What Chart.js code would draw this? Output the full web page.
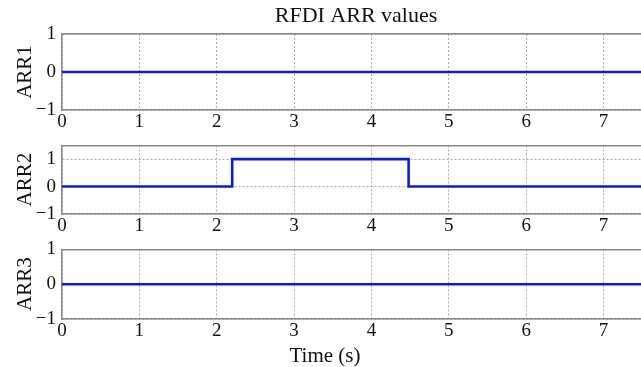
<!DOCTYPE html>
<html>
<head>
<meta charset="utf-8">
<script src="https://cdn.jsdelivr.net/npm/chart.js@4/dist/chart.umd.min.js"></script>
<style>
  html, body { margin: 0; padding: 0; background: #fff; overflow: hidden; }
  body { width: 641px; height: 367px; position: relative; }
  .panel { position: absolute; left: 0; }
</style>
</head>
<body>
<div class="panel" style="top:0"><canvas id="arr1" width="650" height="140"></canvas></div>
<div class="panel" style="top:128px"><canvas id="arr2" width="650" height="112"></canvas></div>
<div class="panel" style="top:232px"><canvas id="arr3" width="650" height="135"></canvas></div>
<script>
// step signal breakpoints (time in s)
const times = [0, 2.2, 4.48, 8];
const arr1 = [0, 0, 0, 0];
const arr2 = [0, 1, 0, 0];
const arr3 = [0, 0, 0, 0];
const xTicks = [0, 1, 2, 3, 4, 5, 6, 7];
const yTicks = [-1, 0, 1];

const FONT = "'Liberation Serif', 'Times New Roman', serif";
const gridGray = "#ababab";
const boxGray = "#8a8a8a";

function makeChart(id, label, values, o) {
  return new Chart(document.getElementById(id), {
    type: "line",
    data: {
      datasets: [{
        data: times.map((t, i) => ({ x: t, y: values[i] })),
        stepped: "before",
        borderColor: "#0f1ecc",
        borderWidth: 2.6,
        pointRadius: 0,
        fill: false,
      }],
    },
    options: {
      responsive: false,
      animation: false,
      layout: { padding: { top: o.padTop, left: 0, right: 0, bottom: 0 } },
      plugins: {
        legend: { display: false },
        tooltip: { enabled: false },
        title: o.xTitle ? {
          display: true,
          position: "bottom",
          text: o.xTitle,
          color: "#111",
          font: { family: FONT, size: 21, weight: "normal", lineHeight: 1 },
          padding: { top: 0.5, bottom: 0.5 },
        } : { display: false },
      },
      scales: {
        x: {
          type: "linear",
          min: 0,
          max: 7.6,
          afterBuildTicks: (s) => { s.ticks = xTicks.map((v) => ({ value: v })); },
          afterFit: (s) => { s.height = o.xHeight; },
          ticks: {
            color: "#111",
            padding: 1,
            maxRotation: 0,
            font: { family: FONT, size: 19 },
          },
          grid: { color: gridGray, drawTicks: false, lineWidth: 1 },
          border: { color: boxGray, width: 1.5, dash: [2, 2] },
        },
        xTop: {
          type: "linear",
          position: "top",
          min: 0,
          max: 7.6,
          afterFit: (s) => { s.height = o.topHeight; },
          ticks: { display: false },
          grid: { display: false, drawTicks: false },
          border: { color: boxGray, width: 1.5 },
          title: o.title ? {
            display: true,
            text: o.title,
            color: "#111",
            font: { family: FONT, size: 22, lineHeight: 1.2 },
            padding: { top: 3, bottom: 0 },
          } : { display: false },
        },
        y: {
          min: -1,
          max: o.yMax,
          afterBuildTicks: (s) => { s.ticks = yTicks.map((v) => ({ value: v })); },
          afterFit: (s) => { s.width = 62; },
          ticks: {
            color: "#111",
            padding: 6,
            font: { family: FONT, size: 19 },
            callback: (v) => String(v).replace("-", "\u2212"),
          },
          grid: { color: gridGray, drawTicks: false, lineWidth: 1 },
          border: { color: boxGray, width: 1.5, dash: [2, 2] },
          title: {
            display: true,
            text: label,
            color: "#111",
            font: { family: FONT, size: 21, lineHeight: 1 },
            padding: { top: 15, bottom: 0 },
          },
        },
      },
    },
  });
}

makeChart("arr1", "ARR1", arr1, { padTop: 0, topHeight: 34, xHeight: 30, yMax: 1, title: "RFDI ARR values" });
makeChart("arr2", "ARR2", arr2, { padTop: 12, topHeight: 0, xHeight: 26, yMax: 1.5 });
makeChart("arr3", "ARR3", arr3, { padTop: 12, topHeight: 0, xHeight: 26, yMax: 1, xTitle: "Time (s)" });
</script>
</body>
</html>
